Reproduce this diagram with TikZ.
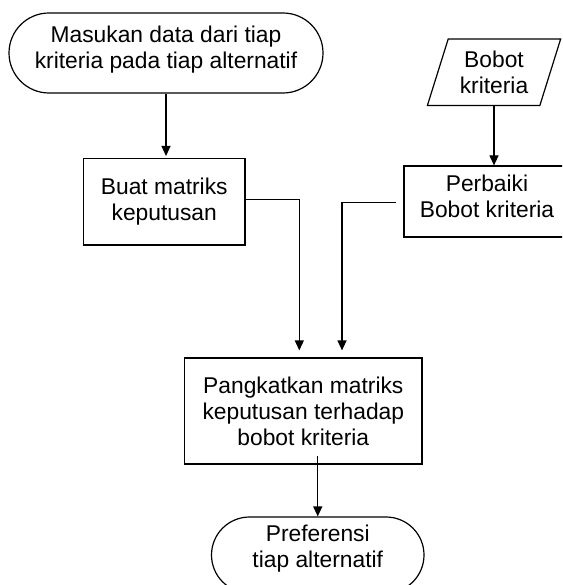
\documentclass[tikz,border=0pt]{standalone}
\usepackage{fontspec}
\setmainfont{Liberation Sans}
\usetikzlibrary{arrows.meta,shapes.geometric,shapes.misc,calc}
\tikzset{
  base/.style={draw=black, line width=1.2pt, inner sep=0pt, align=center,
    font=\fontsize{22.8pt}{26pt}\selectfont, text=black},
  terminal/.style={base, rounded rectangle},
  procbox/.style={base, rectangle},
  iobox/.style={base, trapezium, trapezium left angle=70, trapezium right angle=110,
    trapezium stretches=true},
  arr/.style={draw=black, line width=1.2pt, -{Triangle[length=10pt,width=9pt]}},
}
\begin{document}
\begin{tikzpicture}[x=1pt,y=-1pt]
\useasboundingbox (0,0) rectangle (562,585);
\fill[white] (0,0) rectangle (562,585);
\clip (0,0) rectangle (562,585);

\node[terminal, minimum width=314pt, minimum height=80pt, text depth=11pt] (start) at (166,53)
  {Masukan data dari tiap\\kriteria pada tiap alternatif};
\node[procbox, minimum width=161.5pt, minimum height=86.4pt] (buat) at (164.25,201.8)
  {Buat matriks\\keputusan};
\node[iobox, minimum width=134pt, minimum height=66.6pt] (bobot) at (494,72.3)
  {Bobot\\kriteria};
\node[procbox, minimum width=166pt, minimum height=71pt, text depth=10pt] (perb) at (487,201.5)
  {Perbaiki\\Bobot kriteria};
\node[procbox, minimum width=237.4pt, minimum height=106pt] (pang) at (303.3,411)
  {Pangkatkan matriks\\keputusan terhadap\\bobot kriteria};
\node[terminal, minimum width=212.5pt, minimum height=76pt, text depth=17pt] (pref) at (317.75,555)
  {Preferensi\\tiap alternatif};

\draw[arr, shorten >=2pt] (start.south) -- (start.south |- buat.north);
\draw[arr] (bobot.south) -- (bobot.south |- perb.north);
\draw[arr, shorten >=7pt] ([yshift=2pt]buat.east) -| ([xshift=-4pt]pang.north);
\draw[arr, shorten >=7pt] ([xshift=-7pt,yshift=-1pt]perb.west) -| ([xshift=38.7pt]pang.north);
\draw[arr] ([yshift=9pt]pang.south -| pref.north) -- (pref.north);
\end{tikzpicture}
\end{document}
